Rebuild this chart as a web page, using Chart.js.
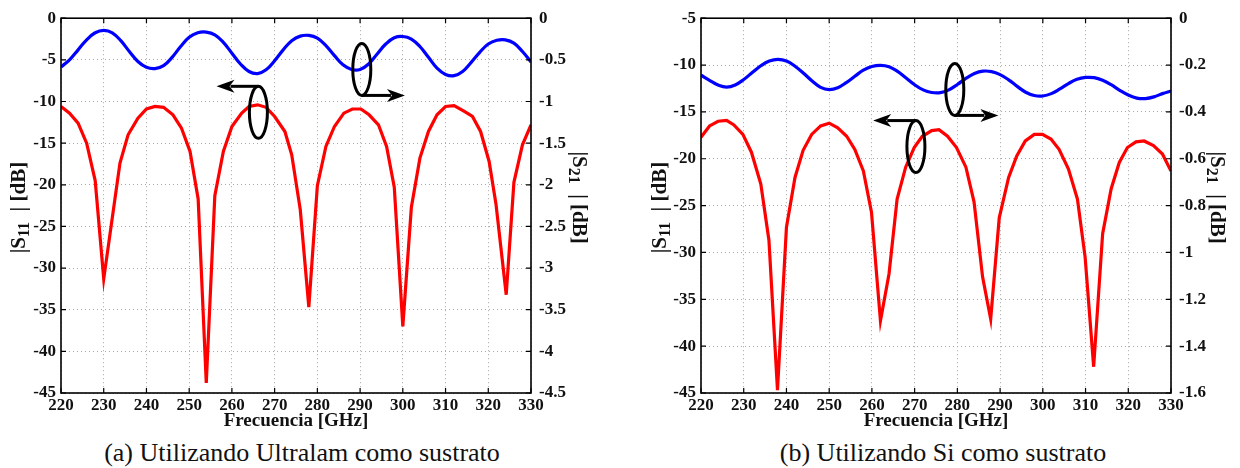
<!DOCTYPE html>
<html>
<head>
<meta charset="utf-8">
<script src="https://cdn.jsdelivr.net/npm/chart.js@4.4.1/dist/chart.umd.min.js"></script>
<style>
  body { margin: 0; background: #fff; }
  #wrap { position: relative; width: 1240px; height: 468px; overflow: hidden; background: #fff; }
  canvas { position: absolute; top: 0; }
  .cap { position: absolute; top: 440px; width: 600px; text-align: center;
         font-family: "Liberation Serif", serif; font-size: 26px; line-height: 26px; color: #111; }
</style>
</head>
<body>
<div id="wrap">
  <canvas id="chartA" width="620" height="432" style="left:0"></canvas>
  <canvas id="chartB" width="620" height="432" style="left:620px"></canvas>
  <div class="cap" style="left:2px">(a) Utilizando Ultralam como sustrato</div>
  <div class="cap" style="left:643px">(b) Utilizando Si como sustrato</div>
</div>
<script>
// frequency axis (GHz)
const freqMin = 220, freqMax = 330;

// (a) Ultralam - |S11| in dB (left axis)
const freqS11a = [220, 222, 224, 226, 228, 230, 233.8, 235.7, 238, 240, 242, 244, 246.2, 248.2, 250.2, 252.1,
  254, 256, 258, 260, 262.3, 264, 266, 268, 270, 272.4, 274, 276, 278, 280, 282, 284, 286.2, 288.2, 290.2,
  292.1, 294.3, 296.2, 298, 300, 302, 304, 306, 308, 310, 312, 314.4, 316.3, 318.2, 320.2, 321.8, 324.2,
  326, 328, 330];
const s11a = [-10.6, -11.4, -12.6, -15, -19.5, -31.3, -17.4, -14, -12, -10.9, -10.6, -10.7, -11.6, -13.2, -16, -21.7,
  -43.8, -21.3, -16, -13, -11.4, -10.6, -10.4, -10.7, -11.8, -13.6, -16.4, -23, -34.7, -20.1, -15.4, -13, -11.4, -10.9, -10.9,
  -11.6, -12.8, -15.4, -20.3, -37, -22.7, -16.8, -13.6, -11.6, -10.6, -10.5, -11.2, -11.8, -13.6, -17.2, -22.3, -33.2,
  -19.7, -15.2, -12.8];

// (b) Si - |S11| in dB (left axis)
const freqS11b = [220, 222, 224, 226, 227.7, 229.8, 231.8, 234, 235.9, 237.9, 240, 242, 243.9, 245.9, 248, 250,
  252, 254.1, 256, 258, 259.9, 262, 264, 265.9, 267.9, 269.9, 271.8, 274, 275.7, 277.7, 279.8, 282, 283.9,
  285.9, 287.8, 289.8, 292, 293.9, 295.9, 298, 299.9, 301.9, 303.8, 306, 308.1, 309.9, 311.9, 314, 316,
  317.9, 319.8, 321.8, 323.7, 325.9, 328, 330];
const s11b = [-17.7, -16.5, -16, -15.9, -16.4, -17.4, -19.3, -22.7, -28.7, -44.7, -27.3, -22, -19.1, -17.4, -16.5, -16.2,
  -16.7, -17.6, -19, -21.3, -25.7, -37.3, -32.3, -24.3, -20.9, -18.8, -17.6, -17, -16.9, -17.6, -18.8, -20.9, -24.6,
  -32.6, -37.1, -26.3, -22, -19.7, -18.1, -17.4, -17.4, -17.9, -19, -21.1, -24.3, -30.5, -42.2, -28, -23.2,
  -20.4, -18.8, -18.2, -18.1, -18.6, -19.5, -21.3];

// |S21| in dB (right axis), both charts sampled on the same frequencies
const freqS21 = [220, 222, 224, 226, 228, 230, 232, 234, 236, 238, 240, 242, 244, 246, 248, 250, 252, 254, 256, 258,
  260, 262, 264, 266, 268, 270, 272, 274, 276, 278, 280, 282, 284, 286, 288, 290, 292, 294, 296, 298,
  300, 302, 304, 306, 308, 310, 312, 314, 316, 318, 320, 322, 324, 326, 328, 330];
const s21a = [-0.585, -0.5, -0.38, -0.26, -0.175, -0.147, -0.175, -0.27, -0.4, -0.52, -0.59, -0.605, -0.57, -0.47, -0.34, -0.23,
  -0.175, -0.167, -0.2, -0.29, -0.42, -0.55, -0.64, -0.665, -0.62, -0.51, -0.38, -0.27, -0.215, -0.207, -0.24, -0.33,
  -0.45, -0.56, -0.615, -0.615, -0.55, -0.43, -0.31, -0.235, -0.22, -0.25, -0.34, -0.47, -0.6, -0.675, -0.69, -0.64,
  -0.53, -0.41, -0.31, -0.265, -0.26, -0.3, -0.4, -0.525];
const s21b = [-0.243, -0.265, -0.285, -0.294, -0.285, -0.262, -0.232, -0.203, -0.183, -0.176, -0.183, -0.205, -0.235, -0.268,
  -0.295, -0.305, -0.297, -0.275, -0.248, -0.222, -0.206, -0.201, -0.207, -0.227, -0.255, -0.284, -0.306, -0.317,
  -0.318, -0.306, -0.283, -0.257, -0.236, -0.226, -0.228, -0.241, -0.263, -0.291, -0.316, -0.33, -0.332, -0.322,
  -0.302, -0.279, -0.261, -0.253, -0.254, -0.265, -0.284, -0.308, -0.328, -0.341, -0.343, -0.336, -0.322, -0.311];

// ellipse + arrow markers: centre in data units (left axis), arrow end frequency
const marksA = [
  { f: 266.2, v: -11.3, to: 256.4, side: 'top' },
  { f: 290.4, v: -6.15, to: 300.5, side: 'bottom' }
];
const marksB = [
  { f: 270.3, v: -18.7, to: 260.3, side: 'top' },
  { f: 279.4, v: -12.6, to: 289.6, side: 'bottom' }
];

const serif = '"Liberation Serif", "Times New Roman", serif';

function pts(xs, ys) {
  return xs.map((x, i) => ({ x: x, y: ys[i] }));
}

function yTitle(ctx, cx, cy, rot, sub) {
  const big = 'bold 21px ' + serif, small = 'bold 16px ' + serif;
  const parts = [['|S', big, 0], [sub, small, 5], ['  | [dB]', big, 0]];
  ctx.save();
  ctx.translate(cx, cy);
  ctx.rotate(rot);
  let w = 0;
  parts.forEach(p => { ctx.font = p[1]; w += ctx.measureText(p[0]).width; });
  let x = -w / 2;
  ctx.textBaseline = 'middle';
  ctx.fillStyle = '#111';
  parts.forEach(p => {
    ctx.font = p[1];
    ctx.fillText(p[0], x, p[2]);
    x += ctx.measureText(p[0]).width;
  });
  ctx.restore();
}

function arrowHead(ctx, x, y, dir) {
  ctx.beginPath();
  ctx.moveTo(x, y);
  ctx.lineTo(x - dir * 18, y - 6.5);
  ctx.lineTo(x - dir * 13, y);
  ctx.lineTo(x - dir * 18, y + 6.5);
  ctx.closePath();
  ctx.fill();
}

const framePlugin = {
  id: 'frame',
  afterDatasetsDraw(chart, args, opts) {
    const ctx = chart.ctx, a = chart.chartArea, sx = chart.scales.x, sy = chart.scales.y, sy2 = chart.scales.y2;
    ctx.save();
    ctx.strokeStyle = '#000';
    ctx.lineWidth = 1.2;
    ctx.beginPath();
    sx.ticks.forEach(t => {
      const p = sx.getPixelForValue(t.value);
      ctx.moveTo(p, a.bottom); ctx.lineTo(p, a.bottom - 5);
      ctx.moveTo(p, a.top); ctx.lineTo(p, a.top + 5);
    });
    sy.ticks.forEach(t => {
      const p = sy.getPixelForValue(t.value);
      ctx.moveTo(a.left, p); ctx.lineTo(a.left + 5, p);
    });
    sy2.ticks.forEach(t => {
      const p = sy2.getPixelForValue(t.value);
      ctx.moveTo(a.right, p); ctx.lineTo(a.right - 5, p);
    });
    ctx.stroke();
    ctx.lineWidth = 1.6;
    ctx.strokeRect(a.left, a.top, a.width, a.height);

    // ellipses with arrows
    ctx.lineWidth = 3;
    ctx.fillStyle = '#000';
    opts.marks.forEach(m => {
      const cx = sx.getPixelForValue(m.f), cy = sy.getPixelForValue(m.v);
      const rx = 9, ry = 26;
      ctx.beginPath();
      ctx.ellipse(cx, cy, rx, ry, 0, 0, Math.PI * 2);
      ctx.stroke();
      const ly = m.side === 'top' ? cy - ry : cy + ry;
      const tx = sx.getPixelForValue(m.to);
      const dir = tx > cx ? 1 : -1;
      ctx.beginPath();
      ctx.moveTo(cx, ly);
      ctx.lineTo(tx - dir * 14, ly);
      ctx.stroke();
      arrowHead(ctx, tx, ly, dir);
    });
    ctx.restore();
  },
  afterDraw(chart, args, opts) {
    const a = chart.chartArea, mid = (a.top + a.bottom) / 2;
    yTitle(chart.ctx, opts.leftX, mid + 2, -Math.PI / 2, '11');
    yTitle(chart.ctx, opts.rightX, mid - 8, Math.PI / 2, '21');
  }
};

function makeChart(id, cfg) {
  const tickFont = { family: serif, size: 17, weight: 'bold' };
  const fmt = v => String(+(+v).toFixed(2));
  return new Chart(document.getElementById(id), {
    type: 'line',
    data: {
      datasets: [
        { label: '|S11|', data: pts(cfg.f11, cfg.s11), yAxisID: 'y', borderColor: '#ff0000',
          borderWidth: 3.2, pointRadius: 0, tension: 0, fill: false },
        { label: '|S21|', data: pts(freqS21, cfg.s21), yAxisID: 'y2', borderColor: '#0000ff',
          borderWidth: 3.2, pointRadius: 0, tension: 0.4, fill: false }
      ]
    },
    options: {
      responsive: false,
      animation: false,
      events: [],
      layout: { padding: { top: cfg.top, left: 0, right: 0, bottom: 0 } },
      plugins: {
        legend: { display: false },
        tooltip: { enabled: false },
        frame: { marks: cfg.marks, leftX: cfg.leftTitleX, rightX: cfg.rightTitleX }
      },
      scales: {
        x: {
          type: 'linear', min: freqMin, max: freqMax,
          ticks: { stepSize: 10, font: tickFont, color: '#111', padding: 2, maxRotation: 0, callback: fmt },
          grid: { color: '#a8a8a8', lineWidth: 1, drawTicks: false },
          border: { display: false, dash: [1, 3] },
          title: { display: true, text: 'Frecuencia [GHz]', color: '#111', padding: 0,
                   font: { family: serif, size: 19, weight: 'bold' } },
          afterFit: s => { s.height = 432 - cfg.bottom; }
        },
        y: {
          position: 'left', min: cfg.yMin, max: cfg.yMax,
          ticks: { stepSize: 5, font: tickFont, color: '#111', padding: 5, callback: fmt },
          grid: { color: '#a8a8a8', lineWidth: 1, drawTicks: false },
          border: { display: false, dash: [1, 3] },
          afterFit: s => { s.width = cfg.left; }
        },
        y2: {
          position: 'right', min: cfg.y2Min, max: 0,
          ticks: { stepSize: cfg.y2Step, font: tickFont, color: '#111', padding: 8, callback: fmt },
          grid: { drawOnChartArea: false, drawTicks: false },
          border: { display: false },
          afterFit: s => { s.width = 620 - cfg.right; }
        }
      }
    },
    plugins: [framePlugin]
  });
}

makeChart('chartA', {
  f11: freqS11a, s11: s11a, s21: s21a, marks: marksA,
  yMin: -45, yMax: 0, y2Min: -4.5, y2Step: 0.5,
  top: 16, bottom: 393, left: 61, right: 531, leftTitleX: 20, rightTitleX: 578
});
makeChart('chartB', {
  f11: freqS11b, s11: s11b, s21: s21b, marks: marksB,
  yMin: -45, yMax: -5, y2Min: -1.6, y2Step: 0.2,
  top: 17, bottom: 393, left: 81, right: 551, leftTitleX: 41, rightTitleX: 596
});
</script>
</body>
</html>
